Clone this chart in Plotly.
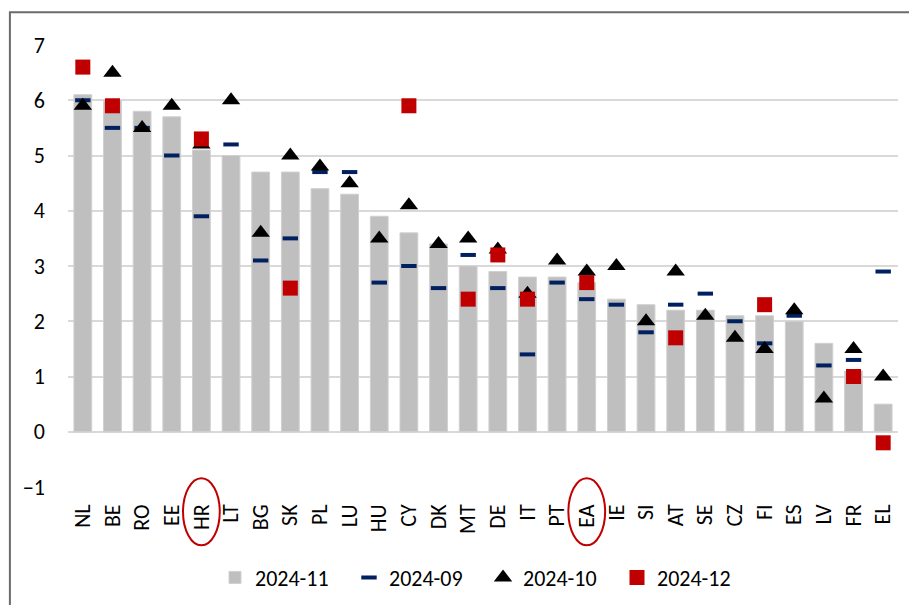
import plotly.graph_objects as go

# Countries, ordered as in the source chart
countries = ["NL", "BE", "RO", "EE", "HR", "LT", "BG", "SK", "PL", "LU",
             "HU", "CY", "DK", "MT", "DE", "IT", "PT", "EA", "IE", "SI",
             "AT", "SE", "CZ", "FI", "ES", "LV", "FR", "EL"]

# 2024-11 (bars)
nov_2024 = [6.1, 6.0, 5.8, 5.7, 5.1, 5.0, 4.7, 4.7, 4.4, 4.3,
            3.9, 3.6, 3.4, 3.0, 2.9, 2.8, 2.8, 2.7, 2.4, 2.3,
            2.2, 2.2, 2.1, 2.1, 2.0, 1.6, 1.1, 0.5]

# 2024-09 (dashes)
sep_2024 = [6.0, 5.5, 5.5, 5.0, 3.9, 5.2, 3.1, 3.5, 4.7, 4.7,
            2.7, 3.0, 2.6, 3.2, 2.6, 1.4, 2.7, 2.4, 2.3, 1.8,
            2.3, 2.5, 2.0, 1.6, 2.1, 1.2, 1.3, 2.9]

# 2024-10 (triangles)
oct_2024 = [5.9, 6.5, 5.5, 5.9, 5.2, 6.0, 3.6, 5.0, 4.8, 4.5,
            3.5, 4.1, 3.4, 3.5, 3.3, 2.5, 3.1, 2.9, 3.0, 2.0,
            2.9, 2.1, 1.7, 1.5, 2.2, 0.6, 1.5, 1.0]

# 2024-12 (squares) - only available for some countries
dec_2024 = [6.6, 5.9, None, None, 5.3, None, None, 2.6, None, None,
            None, 5.9, None, 2.4, 3.2, 2.4, None, 2.7, None, None,
            1.7, None, None, 2.3, None, None, 1.0, -0.2]

# labels circled in red
highlighted = ["HR", "EA"]

FONT = "Carlito, Calibri, Lato, sans-serif"

fig = go.Figure()

fig.add_trace(go.Bar(
    x=countries, y=nov_2024, name="2024-11",
    marker=dict(color="#BFBFBF", line=dict(color="#D0D0D0", width=1)),
))
fig.add_trace(go.Scatter(
    x=countries, y=sep_2024, name="2024-09", mode="markers",
    marker=dict(symbol="line-ew", size=11,
                line=dict(color="#002060", width=4)),
))
fig.add_trace(go.Scatter(
    x=countries, y=oct_2024, name="2024-10", mode="markers",
    marker=dict(symbol="triangle-up", size=16, color="#000000"),
))
fig.add_trace(go.Scatter(
    x=countries, y=dec_2024, name="2024-12", mode="markers",
    marker=dict(symbol="square", size=15, color="#C00000"),
))

# red ellipses around highlighted labels
idx = {c: i for i, c in enumerate(countries)}
for c in highlighted:
    i = idx[c]
    fig.add_shape(
        type="circle", xref="x", yref="paper",
        x0=i - 0.62, x1=i + 0.62, y0=-0.132, y1=0.02,
        line=dict(color="#C00000", width=2),
    )

# outer chart frame (only left/top edges fall inside the picture)
fig.add_shape(
    type="rect", xref="paper", yref="paper",
    x0=-0.07, x1=1.06, y0=-0.35, y1=1.074,
    line=dict(color="#6b6b6b", width=2), layer="below",
)

# page body has an 8px default margin, so the figure is drawn 8px smaller
fig.update_layout(
    width=901, height=597,
    paper_bgcolor="white", plot_bgcolor="white",
    margin=dict(l=60, r=11, t=37, b=118, autoexpand=False),
    bargap=0.4,
    font=dict(family=FONT, size=22, color="#000000"),
    showlegend=True,
    legend=dict(orientation="h", x=0.5, xanchor="center",
                y=-0.205, yanchor="middle",
                font=dict(size=22), traceorder="normal",
                entrywidth=89, itemwidth=30),
)
fig.update_xaxes(
    type="category", range=[-0.5, len(countries) - 0.5],
    tickangle=-90, showgrid=False, automargin=False,
    ticks="", ticklabelstandoff=12, showline=False,
)
fig.update_yaxes(
    range=[-1, 7], dtick=1, showgrid=True, automargin=False,
    gridcolor="#D9D9D9", gridwidth=1.5,
    zeroline=True, zerolinecolor="#D9D9D9", zerolinewidth=1.5,
    ticks="", ticklabelstandoff=22, showline=False,
)

fig.write_html("out.html")
